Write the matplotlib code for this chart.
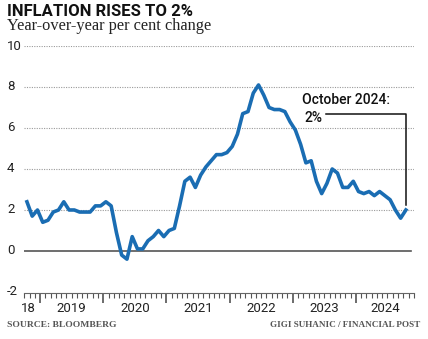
import pandas as pd
import matplotlib
matplotlib.use('Agg')
import matplotlib.pyplot as plt
from matplotlib.transforms import blended_transform_factory

# --- data: Canada CPI, year-over-year % change, Oct 2018 .. Oct 2024 ---
months = pd.period_range('2018-10', '2024-10', freq='M')
cpi = [2.4, 1.7, 2.0,
       1.4, 1.5, 1.9, 2.0, 2.4, 2.0, 2.0, 1.9, 1.9, 1.9, 2.2, 2.2,
       2.4, 2.2, 0.9, -0.2, -0.4, 0.7, 0.1, 0.1, 0.5, 0.7, 1.0, 0.7,
       1.0, 1.1, 2.2, 3.4, 3.6, 3.1, 3.7, 4.1, 4.4, 4.7, 4.7, 4.8,
       5.1, 5.7, 6.7, 6.8, 7.7, 8.1, 7.6, 7.0, 6.9, 6.9, 6.8, 6.3,
       5.9, 5.2, 4.3, 4.4, 3.4, 2.8, 3.3, 4.0, 3.8, 3.1, 3.1, 3.4,
       2.9, 2.8, 2.9, 2.7, 2.9, 2.7, 2.5, 2.0, 1.6, 2.0]
year_labels = ['18', '2019', '2020', '2021', '2022', '2023', '2024']
year_label_pos = [2018.82, 2019.5, 2020.5, 2021.5, 2022.5, 2023.5, 2024.47]
y_ticks = [-2, 0, 2, 4, 6, 8, 10]

# month midpoints as fractional years
x = [p.year + (p.month - 0.5) / 12 for p in months]

BLUE = '#1a6db3'
SANS = ['Liberation Sans Narrow', 'Roboto', 'DejaVu Sans']
SERIF = ['Liberation Serif', 'DejaVu Serif']
ROBOTO = ['Roboto', 'DejaVu Sans']

fig = plt.figure(figsize=(4.28, 3.39), dpi=100)
fig.patch.set_facecolor('white')
ax = fig.add_axes([24/428, 1 - 293/339, 390/428, (293 - 46)/339])

ax.set_xlim(2018.745, 2024.92)
ax.set_ylim(-2.05, 10)

# grid + zero line
for v in [2, 4, 6, 8, 10]:
    ax.axhline(v, color='#9a9a9a', lw=0.8, ls=(0, (1, 1.2)), zorder=1)
ax.plot([2018.745, 2024.87], [0, 0], color='#555555', lw=1.2, zorder=2)

ax.plot(x, cpi, color=BLUE, lw=2.6, solid_joinstyle='round', zorder=3)

# annotation
ax.plot([2023.53, x[-1], x[-1]], [6.7, 6.7, 2.25], color='#111111', lw=1.1, zorder=4)
ax.text(2023.15, 7.37, 'October 2024:', fontsize=10, family=ROBOTO, fontweight='medium',
        color='#111111', va='center', ha='left')
ax.text(2023.19, 6.47, '2%', fontsize=10, family=ROBOTO, fontweight='medium',
        color='#111111', va='center', ha='left')

# axis styling
for s in ['top', 'right', 'left']:
    ax.spines[s].set_visible(False)
ax.spines['bottom'].set_color('#666666')
ax.spines['bottom'].set_linewidth(0.8)
ax.set_yticks([])
ax.set_xticks([2019, 2020, 2021, 2022, 2023, 2024])
ax.set_xticks([m.year + (m.month - 1) / 12 for m in pd.period_range('2018-10', '2024-12', freq='M')],
              minor=True)
ax.tick_params(axis='x', which='major', length=7, width=1.1, color='#444444', labelbottom=False)
ax.tick_params(axis='x', which='minor', length=3.5, width=0.8, color='#555555')

tr = blended_transform_factory(fig.transFigure, ax.transData)
for v in y_ticks:
    ax.text(7/428, v, str(v), transform=tr, fontsize=9.5, family=ROBOTO,
            color='#222222', va='center', ha='left')

trx = blended_transform_factory(ax.transData, fig.transFigure)
for lab, pos in zip(year_labels, year_label_pos):
    ax.text(pos, 1 - 308/339, lab, transform=trx, fontsize=9.5, family=ROBOTO,
            color='#222222', va='center', ha='center')

# titles and credits
fig.text(7/428, 1 - 11/339, 'INFLATION RISES TO 2%', fontsize=12, fontweight='bold',
         family=SANS, color='#111111', va='center', ha='left')
fig.text(7/428, 1 - 26/339, 'Year-over-year per cent change', fontsize=11.8,
         family=SERIF, color='#222222', va='center', ha='left')
fig.text(7/428, 1 - 325/339, 'SOURCE: BLOOMBERG', fontsize=6.8, fontweight='bold',
         family=SERIF, color='#555555', va='center', ha='left')
fig.text(420/428, 1 - 325/339, 'GIGI SUHANIC / FINANCIAL POST', fontsize=6.6, fontweight='bold',
         family=SERIF, color='#555555', va='center', ha='right')

plt.savefig('out.png', dpi=100, facecolor='white')
